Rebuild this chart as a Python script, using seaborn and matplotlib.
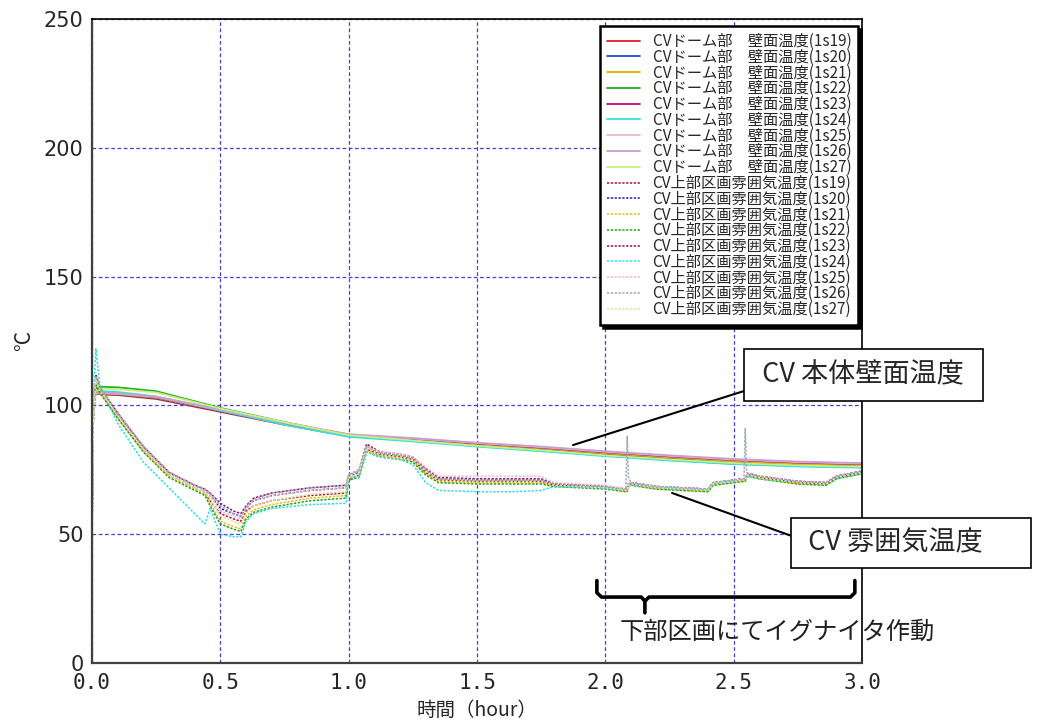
import numpy as np
import pandas as pd
import seaborn as sns
import matplotlib
matplotlib.use("Agg")
import matplotlib.pyplot as plt

# ---- data ----
SENSORS = ["1s19", "1s20", "1s21", "1s22", "1s23", "1s24", "1s25", "1s26", "1s27"]

WALL_T = [0.0, 0.01, 0.02, 0.04, 0.1, 0.25, 0.5, 0.75, 1.0, 1.25, 1.5, 1.75,
          2.0, 2.25, 2.5, 2.75, 3.0]
WALL_VALUES = {
    "1s19": [100, 104, 104.5, 104.2, 104, 102.5, 97.5, 92.5, 88, 86.5, 84.5, 83, 81, 79.5, 78, 77, 76.5],
    "1s20": [100, 104, 104.5, 104.5, 104.2, 102.8, 97.8, 92.8, 88.2, 86.6, 84.6, 83.1, 81.2, 79.6, 78.1, 77.2, 76.6],
    "1s21": [100, 104, 104.6, 104.6, 104.4, 103, 98, 93, 88.4, 86.8, 84.8, 83.3, 81.4, 79.8, 78.3, 77.3, 76.8],
    "1s22": [100, 106, 107, 107.2, 107, 105.5, 99, 93.5, 88.5, 86.5, 84.2, 82.5, 80.5, 78.8, 77.3, 76.5, 76],
    "1s23": [100, 104, 105, 105, 104.8, 103.2, 98.2, 93.2, 88.6, 87, 85.2, 83.6, 81.8, 80.2, 78.8, 77.8, 77.2],
    "1s24": [102, 105, 105.5, 105.5, 105.2, 103.5, 98, 92.5, 87.8, 86, 84, 82.2, 80.3, 78.6, 77.2, 76.3, 75.8],
    "1s25": [100, 104, 104.8, 104.8, 104.6, 103.3, 98.3, 93.3, 88.7, 87.2, 85.4, 83.8, 82, 80.4, 79, 78, 77.4],
    "1s26": [100, 104, 104.8, 104.9, 104.7, 103.4, 98.4, 93.4, 88.8, 87.3, 85.5, 84, 82.2, 80.6, 79.2, 78.2, 77.6],
    "1s27": [101, 105, 106, 106.5, 106.3, 105, 98.8, 93.4, 88.4, 86.4, 84.3, 82.6, 80.6, 79, 77.6, 76.7, 76.2],
}

ATM_T = [0.0, 0.005, 0.015, 0.03, 0.1, 0.2, 0.3, 0.4, 0.44, 0.46, 0.5, 0.55,
         0.58, 0.6, 0.63, 0.7, 0.85, 0.99, 1.0, 1.04, 1.07, 1.12, 1.2, 1.25,
         1.3, 1.35, 1.5, 1.65, 1.75, 1.8, 2.0, 2.08, 2.085, 2.09, 2.1, 2.2,
         2.4, 2.42, 2.5, 2.54, 2.545, 2.55, 2.56, 2.6, 2.75, 2.86, 2.9, 3.0]
ATM_VALUES = {
    "1s19": [50, 95, 110, 106, 96, 83, 73, 68, 66, 63, 58, 56, 55, 59, 61, 63, 65, 66, 71, 73, 83, 81, 80, 79,
             74, 71, 70.5, 70.5, 70.5, 69, 68, 67, 67, 69, 69.5, 68, 67, 69.5, 70.5, 71, 71, 72.5, 73, 72, 70, 69.5, 72, 74],
    "1s20": [50, 96, 111, 107, 97, 84, 74, 69, 67, 65, 60, 58, 57, 60, 63, 65, 67, 68, 72, 74, 84, 81.5, 80.5, 79.5,
             75, 71.5, 71, 71, 71, 69.5, 68.5, 67.5, 67.5, 69.5, 70, 68.5, 67.5, 70, 71, 71.5, 71.5, 73, 73.5, 72.5, 70.5, 70, 72.5, 74.5],
    "1s21": [50, 94, 109, 105, 95, 82, 72.5, 67.5, 65.5, 62, 55, 53, 52, 57, 59.5, 61.5, 64, 65, 71, 72.5, 82.5, 80.5, 79.5, 78.5,
             73.5, 70.5, 70, 70, 70, 68.5, 68, 66.5, 66.5, 68.5, 69, 67.5, 66.5, 69, 70, 70.5, 70.5, 72, 72.5, 71.5, 69.5, 69, 71.5, 73.5],
    "1s22": [50, 93, 108, 105, 95, 82, 72, 67, 65, 61, 54, 52, 51, 56, 58.5, 60.5, 63, 64, 71, 72, 82, 80, 79, 78,
             73, 70, 69.5, 69.5, 69.5, 68.5, 67.5, 66.5, 66.5, 68.5, 69, 67.5, 66.5, 69, 70, 70.5, 70.5, 72, 72.5, 71.5, 69.5, 69, 71.5, 73.5],
    "1s23": [50, 97, 112, 107, 97, 84, 74, 69, 67.5, 66, 62, 59, 58, 61, 64, 66, 68, 69, 73, 75, 85, 82, 81, 80,
             75.5, 72, 71.5, 71.5, 71.5, 69.5, 68.5, 67.5, 67.5, 69.5, 70, 68.5, 67.5, 70, 71, 71.5, 71.5, 73, 73.5, 72.5, 70.5, 70, 72.5, 74.5],
    "1s24": [50, 100, 122, 108, 93, 78, 68, 58, 54, 60, 50, 49, 49, 55, 58, 60, 61.5, 62, 72, 72, 82, 80, 79, 77,
             70, 67, 66.5, 66.5, 67, 68.5, 68, 67, 67, 69, 69, 68, 67, 69.5, 70.5, 71, 71, 72, 72.5, 71.5, 70, 69.5, 71.5, 73.5],
    "1s25": [50, 96, 111, 107, 97, 84, 74, 69, 67, 65, 59, 57, 56, 60, 63, 65, 67, 68, 73, 75, 84, 82, 81, 80,
             76, 72.5, 72.5, 72.5, 72.5, 70, 69, 67.5, 67.5, 69.5, 70, 68.5, 67.5, 70, 71, 71.5, 71.5, 73, 73.5, 72.5, 70.5, 70, 72.5, 74.5],
    "1s26": [50, 96, 111, 107, 97, 84, 74, 69, 67.5, 66, 61, 58, 57, 60.5, 63.5, 66, 68, 69, 73, 74.5, 84, 81.5, 80.5, 79.5,
             75, 71.5, 71, 71, 71, 69.5, 68.5, 67, 88, 72, 70, 68.5, 67.5, 70, 71, 71.5, 91, 74, 73.5, 72.5, 70.5, 70, 72.5, 74.5],
    "1s27": [50, 95, 110, 106, 96, 83, 73, 68, 66, 64, 57, 55, 54, 58, 61, 63, 65.5, 66.5, 72, 73.5, 83.5, 81, 80, 79,
             74.5, 71, 70.5, 70.5, 70.5, 69, 68, 67, 67, 69, 69.5, 68, 67, 69.5, 70.5, 71, 71, 72.5, 73, 72, 70, 69.5, 72, 74],
}

WALL_COLORS = ["#e02020", "#1f4fd0", "#e8b000", "#20b020", "#b0107a",
               "#30e0e0", "#f0b8cc", "#c8a0d0", "#c8f080"]
ATM_COLORS = ["#b01030", "#2020b0", "#f0c000", "#20a020", "#901060",
              "#30e0e0", "#f8b8c8", "#a0a8b8", "#e0e0a0"]

X_TICKS = [0.0, 0.5, 1.0, 1.5, 2.0, 2.5, 3.0]
Y_TICKS = [0, 50, 100, 150, 200, 250]


def main():
    sns.set_style("white")
    plt.rcParams["font.family"] = ["Noto Sans CJK JP", "DejaVu Sans"]

    fig = plt.figure(figsize=(10.42, 7.27), dpi=100)
    ax = fig.add_axes([0.0883, 0.088, 0.739, 0.886])

    # wall temperatures (solid)
    for s, c in zip(SENSORS, WALL_COLORS):
        df = pd.DataFrame({"t": WALL_T, "v": WALL_VALUES[s]})
        sns.lineplot(data=df, x="t", y="v", color=c, lw=1.3, estimator=None,
                     sort=False, label=f"CVドーム部　壁面温度(1{s[1:]})", ax=ax)

    # atmosphere temperatures (dotted)
    for s, c in zip(SENSORS, ATM_COLORS):
        df = pd.DataFrame({"t": ATM_T, "v": ATM_VALUES[s]})
        sns.lineplot(data=df, x="t", y="v", color=c, lw=1.1, estimator=None,
                     sort=False, label=f"CV上部区画雰囲気温度(1{s[1:]})", ax=ax)
        ax.lines[-1].set_dashes((1.5, 1.0))

    ax.set_xlim(0, 3.0)
    ax.set_ylim(0, 250)
    ax.set_xticks(X_TICKS)
    ax.set_yticks(Y_TICKS)
    ax.set_xticklabels([f"{v:.1f}" for v in X_TICKS], family="DejaVu Sans Mono", fontsize=15)
    ax.set_yticklabels([str(v) for v in Y_TICKS], family="Liberation Sans Narrow", fontsize=15)
    ax.tick_params(axis="x", direction="in", length=5, width=1, pad=7)
    ax.tick_params(axis="y", direction="out", length=4, width=1, pad=2)

    ax.grid(True, color="#4a3fd0", linestyle=(0, (3, 2)), lw=0.9)
    for side in ["left", "bottom"]:
        ax.spines[side].set_color("#404040")
        ax.spines[side].set_linewidth(1.6)
    for side in ["top", "right"]:
        ax.spines[side].set_color("black")
        ax.spines[side].set_linewidth(1.2)

    ax.set_xlabel("時間（hour）", fontsize=14)
    ax.xaxis.set_label_coords(0.5, -0.058)
    ax.set_ylabel("°C", fontsize=15)
    ax.yaxis.set_label_coords(-0.074, 0.5)

    leg = ax.legend(loc="upper right", bbox_to_anchor=(0.995, 0.989), fontsize=11.0,
                    frameon=True, fancybox=False, framealpha=1, labelspacing=-0.08,
                    handlelength=2.2, handletextpad=0.8, borderpad=0.45,
                    borderaxespad=0.0, shadow={"color": "black", "alpha": 1})
    leg.get_frame().set_edgecolor("black")
    leg.get_frame().set_linewidth(1.8)

    # callout boxes
    box = dict(boxstyle="square,pad=0.45", fc="white", ec="black", lw=1.2)
    ax.annotate(" CV 本体壁面温度 ", xy=(1.874, 84.6), xytext=(3.005, 111.8),
                textcoords="data", ha="center", va="center", fontsize=19.5,
                bbox=box, annotation_clip=False, zorder=10,
                arrowprops=dict(arrowstyle="-", color="black", lw=1.5,
                                relpos=(0.0, 0.05), shrinkA=0, shrinkB=0))
    ax.annotate(" CV 雰囲気温度      ", xy=(2.26, 66.0), xytext=(3.19, 46.6),
                textcoords="data", ha="center", va="center", fontsize=19.5,
                bbox=dict(boxstyle="square,pad=0.42", fc="white", ec="black", lw=1.2),
                annotation_clip=False, zorder=10,
                arrowprops=dict(arrowstyle="-", color="black", lw=1.5,
                                relpos=(0.0, 0.62), shrinkA=0, shrinkB=0))

    # brace for igniter period
    ax.plot([1.967, 1.967, 1.985, 2.14, 2.154, 2.154], [32, 27.3, 25.6, 25.6, 24, 19.5],
            color="black", lw=2.6, clip_on=False, zorder=9, solid_joinstyle="round")
    ax.plot([2.154, 2.17, 2.955, 2.972, 2.972], [24, 25.6, 25.6, 27.3, 32],
            color="black", lw=2.6, clip_on=False, zorder=9, solid_joinstyle="round")
    ax.text(2.057, 12, "下部区画にてイグナイタ作動", fontsize=17.5, ha="left", va="center",
            color="#202020")

    fig.savefig("out.png", dpi=100)


if __name__ == "__main__":
    main()
